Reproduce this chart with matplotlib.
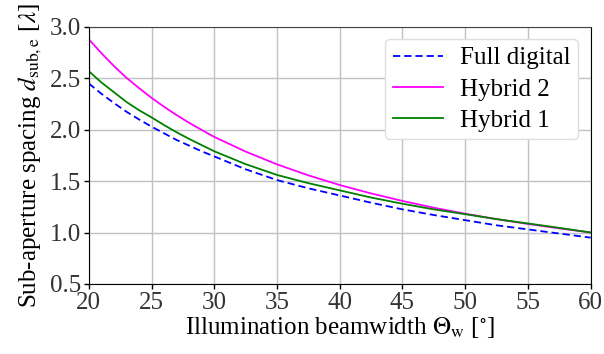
import matplotlib
matplotlib.use('Agg')
import matplotlib.pyplot as plt

# beamwidth in degrees
theta = [20, 21, 22, 23, 24, 25, 26, 27, 28, 29, 30, 32.5, 35, 37.5, 40,
         42.5, 45, 47.5, 50, 52.5, 55, 57.5, 60]

# sub-aperture spacing in wavelengths
full_digital = [2.45, 2.35, 2.26, 2.175, 2.10, 2.03, 1.965, 1.90, 1.845,
                1.79, 1.74, 1.615, 1.51, 1.43, 1.36, 1.29, 1.225, 1.17, 1.12,
                1.07, 1.03, 0.99, 0.95]
hybrid_2 = [2.88, 2.745, 2.62, 2.505, 2.405, 2.31, 2.223, 2.142, 2.067,
            1.997, 1.93, 1.787, 1.663, 1.556, 1.462, 1.38, 1.307, 1.241,
            1.183, 1.13, 1.083, 1.04, 1.00]
hybrid_1 = [2.57, 2.46, 2.365, 2.27, 2.19, 2.12, 2.045, 1.975, 1.91, 1.85,
            1.79, 1.665, 1.56, 1.48, 1.41, 1.34, 1.28, 1.225, 1.178, 1.13,
            1.088, 1.045, 1.00]

plt.rcParams['font.family'] = ['Liberation Serif', 'DejaVu Serif']
plt.rcParams['mathtext.fontset'] = 'stix'
plt.rcParams['font.size'] = 18

fig = plt.figure(figsize=(6.04, 3.54), dpi=100)
ax = fig.add_axes([0.147, 0.198, 0.831, 0.726])

ax.plot(theta, full_digital, color='#0000ff', linestyle='--', linewidth=1.3,
        dashes=(4, 2.2), label='Full digital')
ax.plot(theta, hybrid_2, color='#ff00ff', linewidth=1.3, label='Hybrid 2')
ax.plot(theta, hybrid_1, color='#008000', linewidth=1.3, label='Hybrid 1')

ax.set_xlim(20, 60)
ax.set_ylim(0.5, 3.0)
ax.set_xticks([20, 25, 30, 35, 40, 45, 50, 55, 60])
ax.set_yticks([0.5, 1.0, 1.5, 2.0, 2.5, 3.0])
ax.grid(True, color='#c0c0c6', linewidth=1.0)
ax.set_axisbelow(True)

for side in ['left', 'bottom', 'right']:
    ax.spines[side].set_color('black')
ax.spines['top'].set_color('#444444')

ax.tick_params(axis='both', colors='black', labelcolor='#333333',
               length=3.5, width=1.0, pad=2, labelsize=18)

ax.set_xlabel(r'Illumination beamwidth $\Theta_{\mathrm{w}}$ [$^{\circ}$]',
              labelpad=1)
ax.set_ylabel(r'Sub-aperture spacing $d_{\mathrm{sub,e}}$ [$\lambda$]',
              labelpad=4)

leg = ax.legend(loc='upper right', fontsize=18, frameon=True, fancybox=True,
                edgecolor='#dddddd', framealpha=1.0, handlelength=2.0,
                handletextpad=0.7, borderpad=0.3, labelspacing=0.35,
                borderaxespad=0.5)

fig.savefig('out.png', dpi=100)
